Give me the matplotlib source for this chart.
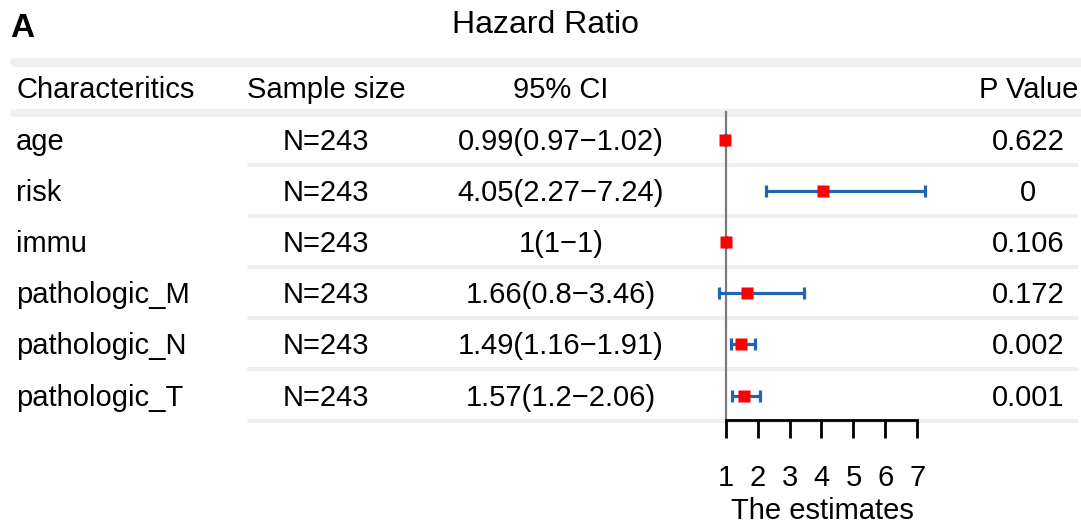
import numpy as np
import matplotlib
matplotlib.use("Agg")
import matplotlib.pyplot as plt

plt.rcParams['font.family'] = ['Liberation Sans', 'DejaVu Sans']

# data
characteristics = ["age", "risk", "immu", "pathologic_M", "pathologic_N", "pathologic_T"]
sample_size = [243, 243, 243, 243, 243, 243]
hr = [0.99, 4.05, 1, 1.66, 1.49, 1.57]
ci_low = [0.97, 2.27, 1, 0.8, 1.16, 1.2]
ci_high = [1.02, 7.24, 1, 3.46, 1.91, 2.06]
p_values = ["0.622", "0", "0.106", "0.172", "0.002", "0.001"]
x_ticks = [1, 2, 3, 4, 5, 6, 7]

W, H = 1081, 524
fig = plt.figure(figsize=(W / 100, H / 100), dpi=100)

# table layer in pixel-like coordinates
tab = fig.add_axes([0, 0, 1, 1])
tab.set_xlim(0, W)
tab.set_ylim(H, 0)
tab.axis('off')

fs = 21
band = '#efefef'
row0, row_h = 140, 51.1

tab.plot([14, W], [61.5, 61.5], color=band, lw=6.5, solid_capstyle='round')
tab.plot([14, W], [113, 113], color=band, lw=5.8, solid_capstyle='round')
for i in range(len(characteristics)):
    yl = row0 + row_h * i + 25
    tab.plot([249, 1077], [yl, yl], color=band, lw=2.9, solid_capstyle='round')

tab.text(10, 37, "A", fontsize=24, fontweight='bold', ha='left', va='baseline')
tab.text(545, 33, "Hazard Ratio", fontsize=23, ha='center', va='baseline')

hy = 98
tab.text(16, hy, "Characteritics", fontsize=fs, ha='left', va='baseline')
tab.text(326, hy, "Sample size", fontsize=fs, ha='center', va='baseline')
tab.text(561, hy, "95% CI", fontsize=fs, ha='center', va='baseline')
tab.text(1029, hy, "P Value", fontsize=fs, ha='center', va='baseline')

for i, name in enumerate(characteristics):
    yb = row0 + row_h * i + 10
    ci_txt = f"{hr[i]:g}({ci_low[i]:g}\u2212{ci_high[i]:g})"
    tab.text(16, yb, name, fontsize=fs, ha='left', va='baseline')
    tab.text(326, yb, f"N={sample_size[i]}", fontsize=fs, ha='center', va='baseline')
    tab.text(561, yb, ci_txt, fontsize=fs, ha='center', va='baseline')
    tab.text(1028, yb, p_values[i], fontsize=fs, ha='center', va='baseline')

tab.text(822, 511, "The estimates", fontsize=fs, ha='center', va='center')

# forest panel
left, right, top, bottom = 700, 960, 100, 420
ax = fig.add_axes([left / W, (H - bottom) / H, (right - left) / W, (bottom - top) / H])
ax.patch.set_visible(False)
ppu = 31.93
x1px = 725.7
ax.set_xlim(1 - (x1px - left) / ppu, 1 + (right - x1px) / ppu)
ax.set_ylim((bottom - row0) / row_h, (top - row0) / row_h)

rows = np.arange(len(characteristics))
hr_a = np.array(hr)
err = [hr_a - np.array(ci_low), np.array(ci_high) - hr_a]

ax.axvline(1, ymin=0, ymax=(bottom - 112) / (bottom - top), color='#7a7a7a', lw=1.6, zorder=1)
ax.errorbar(hr_a, rows, xerr=err, fmt='none', ecolor='#2264b4', elinewidth=2.3,
            capsize=4.3, capthick=2.3, zorder=2)
ax.plot(hr_a, rows, 's', color='#ff0000', ms=8.8, mec='none', zorder=3)

for s in ['top', 'right', 'left']:
    ax.spines[s].set_visible(False)
ax.spines['bottom'].set_bounds(1, 7)
ax.spines['bottom'].set_linewidth(2.0)
ax.set_yticks([])
ax.set_xticks(x_ticks)
ax.tick_params(axis='x', direction='out', length=13, width=2.0, pad=19, labelsize=fs)

fig.savefig("out.png", dpi=100)
